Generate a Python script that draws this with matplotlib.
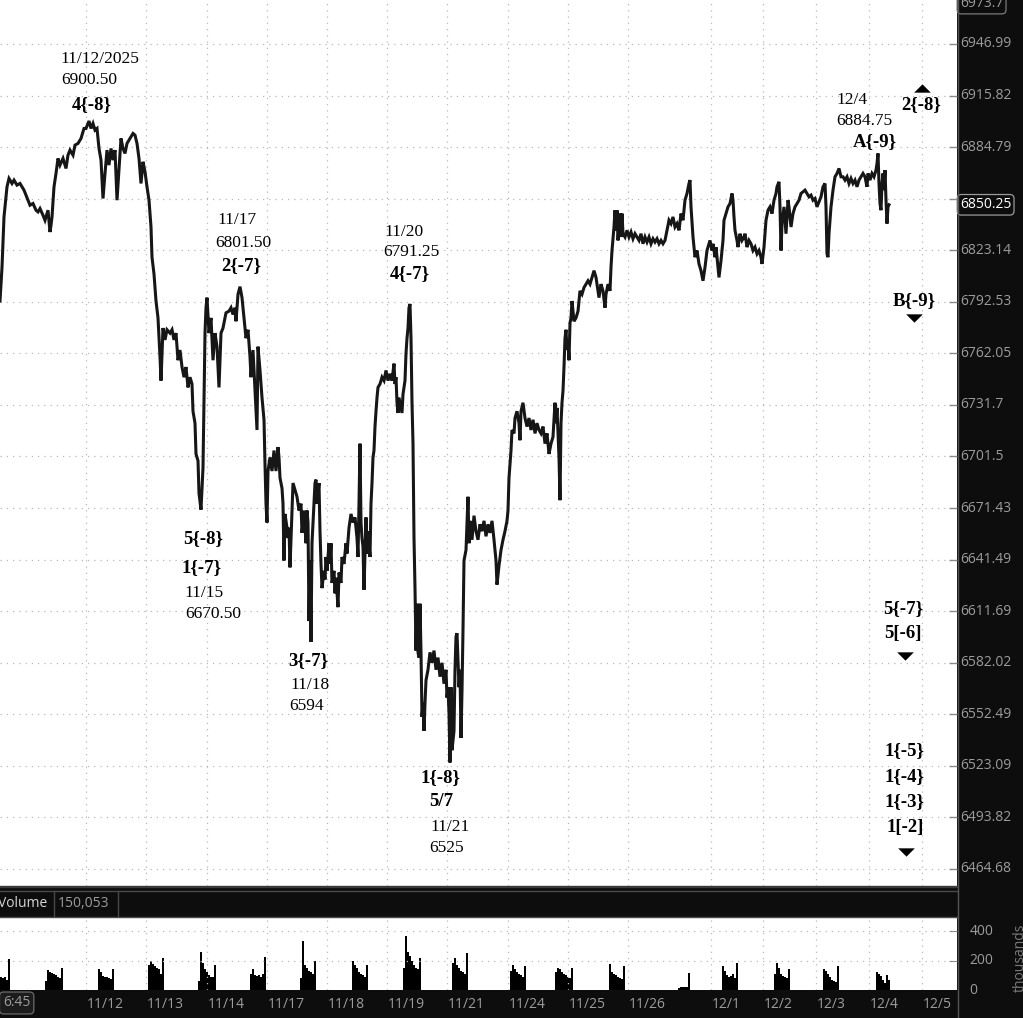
import matplotlib.pyplot as plt
from matplotlib.ticker import NullLocator
from matplotlib.lines import Line2D
from matplotlib.patches import Rectangle

W, H = 1023, 1018

# closes as (bar, price); one bar ~ one chart column
NOV11_14 = [
    (0, 6793), (2, 6813), (4, 6843), (7, 6861), (9, 6866), (12, 6863), (14, 6865), (17, 6862),
    (20, 6863), (24, 6859), (28, 6853), (30, 6850), (33, 6851), (36, 6847), (38, 6846), (40, 6848),
    (43, 6844), (45, 6841), (48, 6847), (50, 6834), (51, 6838), (52, 6843), (54, 6861), (56, 6869),
    (58, 6878), (60, 6874), (63, 6878), (66, 6872), (68, 6880), (70, 6883), (73, 6880), (75, 6886),
    (78, 6887), (81, 6890), (84, 6896), (86, 6896), (89, 6900.5), (91, 6896), (93, 6899), (95, 6895),
    (97, 6896), (99, 6884), (101, 6877), (103, 6854), (105, 6869), (107, 6883), (109, 6874), (111, 6884),
    (113, 6877), (115, 6883), (117, 6853), (119, 6872), (121, 6890), (123, 6884), (125, 6881), (127, 6887),
    (130, 6890), (133, 6893), (135, 6892), (137, 6887), (139, 6878), (141, 6863), (143, 6876), (145, 6870),
    (147, 6861), (149, 6853), (151, 6837), (152, 6819), (154, 6809), (156, 6793), (158, 6783), (160, 6760),
    (161, 6746), (163, 6777), (165, 6770), (167, 6776), (170, 6774), (172, 6776), (174, 6770), (176, 6774),
    (178, 6758), (180, 6764), (182, 6754), (184, 6748), (186, 6754), (188, 6742), (190, 6748), (192, 6744),
    (193, 6728), (195, 6721), (196, 6703), (198, 6699), (199, 6680), (201, 6670.5), (203, 6695), (204, 6734),
    (205, 6774), (206, 6789), (207, 6795), (209, 6774), (211, 6783), (213, 6758), (215, 6774), (217, 6766),
    (219, 6742), (221, 6774), (223, 6777), (226, 6786), (229, 6787), (231, 6789), (233, 6785), (235, 6789),
    (236, 6781), (238, 6797), (240, 6801.5),
]
NOV17_21 = [
    (242, 6795), (244, 6783), (246, 6771), (248, 6776), (250, 6760), (251, 6748), (253, 6764), (255, 6740),
    (257, 6717), (258, 6766), (260, 6752), (262, 6736), (264, 6723), (265, 6697), (266, 6674), (267, 6663),
    (268, 6693), (270, 6701), (272, 6693), (274, 6705), (276, 6693), (278, 6707), (279, 6701), (280, 6689),
    (282, 6683), (283, 6674), (284, 6641), (285, 6668), (287, 6660), (288, 6654), (289, 6660), (290, 6637),
    (291, 6653), (292, 6670), (293, 6686), (295, 6682), (297, 6678), (299, 6670), (301, 6674), (302, 6657),
    (304, 6670), (306, 6651), (307, 6670), (308, 6663), (309, 6606), (310, 6641), (311, 6594), (312, 6651),
    (313, 6663), (315, 6686), (316, 6688), (317, 6674), (319, 6686), (320, 6658), (321, 6639), (322, 6625),
    (324, 6635), (325, 6630), (326, 6643), (327, 6635), (329, 6651), (330, 6639), (331, 6651), (332, 6628),
    (334, 6635), (335, 6622), (336, 6631), (338, 6614), (339, 6634), (341, 6628), (342, 6643), (344, 6639),
    (346, 6651), (347, 6645), (349, 6660), (351, 6668), (353, 6663), (355, 6666), (357, 6654), (358, 6643),
    (359, 6674), (360, 6709), (361, 6663), (362, 6654), (363, 6649), (364, 6624), (366, 6666), (367, 6645),
    (368, 6658), (370, 6643), (371, 6674), (372, 6686), (373, 6701), (374, 6705), (375, 6719), (376, 6728),
    (377, 6736), (378, 6742), (380, 6744), (382, 6748), (384, 6746), (386, 6752), (388, 6746), (390, 6750),
    (392, 6746), (394, 6756), (395, 6744), (396, 6748), (397, 6733), (398, 6727), (399, 6736), (400, 6733),
    (402, 6727), (403, 6738), (405, 6746), (406, 6762), (407, 6771), (408, 6777), (409, 6789), (410, 6791.25),
    (411, 6771), (412, 6733), (413, 6709), (414, 6654), (415, 6625), (416, 6589), (417, 6616), (418, 6588),
    (419, 6585), (420, 6616), (421, 6588), (422, 6551), (423, 6559), (424, 6543), (425, 6559), (426, 6572),
    (428, 6578), (430, 6588), (432, 6582), (434, 6589), (436, 6578), (438, 6585), (440, 6574), (442, 6582),
    (444, 6570), (446, 6578), (447, 6562), (448, 6568), (449, 6553), (450, 6525), (451, 6568), (452, 6532),
    (454, 6543), (455, 6578), (456, 6597), (457, 6599), (459, 6568), (460, 6578), (461, 6539), (462, 6566),
    (463, 6601), (464, 6641), (466, 6647), (468, 6678), (469, 6651),
]
NOV21_26 = [
    (470, 6664), (472, 6653), (474, 6667), (476, 6658), (478, 6653), (480, 6662), (482, 6658), (484, 6664),
    (486, 6655), (488, 6662), (490, 6657), (492, 6664), (494, 6653), (496, 6641), (497, 6627), (499, 6638),
    (501, 6647), (503, 6653), (505, 6658), (507, 6664), (508, 6670), (509, 6689), (511, 6705), (512, 6717),
    (514, 6715), (515, 6724), (517, 6728), (519, 6721), (520, 6711), (521, 6728), (523, 6733), (525, 6724),
    (527, 6719), (529, 6724), (531, 6717), (533, 6723), (535, 6715), (537, 6721), (539, 6717), (541, 6715),
    (543, 6719), (545, 6709), (547, 6715), (549, 6703), (551, 6709), (553, 6713), (555, 6733), (556, 6721),
    (557, 6730), (558, 6715), (559, 6701), (560, 6676), (561, 6721), (562, 6733), (563, 6740), (564, 6754),
    (565, 6771), (566, 6776), (567, 6764), (568, 6770), (569, 6758), (570, 6780), (571, 6783), (572, 6793),
    (574, 6781), (576, 6783), (578, 6787), (580, 6799), (582, 6797), (584, 6801), (586, 6803), (588, 6805),
    (590, 6803), (592, 6807), (594, 6811), (596, 6807), (598, 6799), (599, 6795), (601, 6803), (603, 6799),
    (605, 6789), (606, 6797), (608, 6803), (610, 6799), (611, 6813), (612, 6823), (614, 6837), (615, 6847),
    (616, 6835), (617, 6847), (618, 6829), (620, 6845), (621, 6831), (622, 6845), (623, 6833), (625, 6831),
    (627, 6835), (629, 6831), (631, 6834), (633, 6830), (635, 6833), (637, 6831), (639, 6829), (641, 6833),
    (643, 6827), (645, 6831), (647, 6828), (649, 6831), (651, 6827), (653, 6830), (655, 6828), (657, 6830),
    (659, 6827), (661, 6829), (663, 6827), (665, 6829), (667, 6835), (669, 6841), (671, 6839), (673, 6843),
    (675, 6837), (677, 6839), (679, 6835), (681, 6845), (683, 6841), (685, 6853), (687, 6857), (689, 6863),
    (690, 6865),
]
NOV28_DEC4 = [
    (691, 6849), (693, 6831), (695, 6819), (697, 6823), (699, 6815), (701, 6811), (703, 6805), (705, 6813),
    (707, 6823), (709, 6827), (710, 6829), (712, 6823), (713, 6827), (715, 6819), (716, 6825), (718, 6813),
    (719, 6807), (721, 6817), (723, 6829), (724, 6841), (726, 6845), (728, 6849), (730, 6851), (732, 6857),
    (733, 6853), (734, 6843), (735, 6835), (737, 6829), (738, 6825), (740, 6833), (742, 6829), (744, 6831),
    (745, 6833), (747, 6825), (749, 6829), (751, 6827), (753, 6823), (755, 6825), (757, 6821), (759, 6823),
    (761, 6819), (762, 6815), (764, 6825), (766, 6841), (768, 6847), (770, 6849), (772, 6845), (774, 6853),
    (776, 6857), (777, 6861), (779, 6864), (780, 6849), (781, 6823), (782, 6839), (784, 6849), (786, 6833),
    (788, 6853), (789, 6849), (791, 6837), (793, 6845), (795, 6849), (797, 6851), (799, 6853), (801, 6857),
    (803, 6858), (805, 6859), (807, 6857), (809, 6855), (811, 6856), (813, 6853), (815, 6854), (817, 6849),
    (819, 6852), (821, 6855), (823, 6861), (825, 6863), (826, 6849), (827, 6821), (828, 6819), (829, 6833),
    (831, 6849), (833, 6859), (835, 6867), (837, 6869), (839, 6872), (841, 6867), (843, 6867), (845, 6865),
    (847, 6867), (849, 6863), (851, 6866), (853, 6863), (855, 6865), (857, 6861), (859, 6865), (861, 6867),
    (863, 6869), (865, 6867), (867, 6861), (868, 6869), (870, 6865), (872, 6869), (874, 6867), (876, 6871),
    (877, 6875), (878, 6881), (879, 6863), (880, 6851), (881, 6847), (882, 6863), (883, 6869), (884, 6859),
    (885, 6871), (886, 6853), (887, 6839), (888, 6849), (889, 6850.25),
]

LAST_PRICE = 6850.25
SCALE_TOP = 6973.7
PRICE_LEVELS = [6464.68, 6493.82, 6523.09, 6552.49, 6582.02, 6611.69, 6641.49, 6671.43, 6701.5,
                6731.7, 6762.05, 6792.53, 6823.14, 6853.93, 6884.79, 6915.82, 6946.99]

DATE_TICKS = [86, 146, 207, 267, 327, 387, 447, 508, 568, 628, 711, 763, 816, 869, 922]
DATE_LABELS = ['11/12', '11/13', '11/14', '11/17', '11/18', '11/19', '11/21', '11/24',
               '11/25', '11/26', '12/1', '12/2', '12/3', '12/4', '12/5']

# volume in thousands, one value per 2 bars from each session start
VOL_START = [0, 45, 98, 148, 198, 250, 300, 352, 403, 452, 510, 555, 609, 678, 722, 774, 823, 876]
VOL_PROFILE = [
    [90, 80, 85, 70, 207],
    [60, 135, 125, 115, 110, 100, 90, 80, 150],
    [140, 120, 95, 90, 85, 80, 75, 140],
    [170, 200, 175, 160, 150, 140, 110, 220],
    [60, 260, 180, 140, 120, 100, 90, 85, 170],
    [110, 140, 100, 95, 105, 90, 110, 225],
    [80, 335, 170, 150, 130, 120, 110, 200],
    [200, 170, 150, 120, 110, 100, 90, 170],
    [150, 365, 260, 230, 200, 170, 150, 140, 220],
    [180, 220, 170, 150, 130, 120, 110, 250],
    [130, 170, 140, 120, 110, 100, 90, 160],
    [120, 150, 140, 120, 110, 100, 90, 80, 150],
    [175, 120, 110, 100, 90, 80, 75, 160],
    [15, 20, 20, 22, 20, 115],
    [160, 130, 100, 85, 95, 110, 80, 185],
    [110, 185, 150, 110, 95, 85, 80, 140],
    [140, 130, 110, 90, 70, 60, 55, 165],
    [125, 110, 95, 70, 50, 105, 70],
]
VOL_LEVELS = [200, 400]
VOL_TOTAL = '150,053'

# wave labels: (text, bar, price, bold)
ANNOTATIONS = [
    ('11/12/2025', 100, 6938.1, False), ('6900.50', 89, 6925.5, False), ('4{-8}', 92, 6910.3, True),
    ('11/17', 237, 6840.9, False), ('6801.50', 243, 6827.7, False), ('2{-7}', 241, 6814.1, True),
    ('11/20', 404, 6834.3, False), ('6791.25', 411, 6821.8, False), ('4{-7}', 410, 6809.3, True),
    ('5{-8}', 203, 6653.9, True), ('1{-7}', 202, 6637.0, True),
    ('11/15', 204, 6622.1, False), ('6670.50', 213, 6609.9, False),
    ('3{-7}', 308, 6583.5, True), ('11/18', 310, 6569.2, False), ('6594', 307, 6557.2, False),
    ('1{-8}', 441, 6516.7, True), ('5/7', 441, 6502.6, True),
    ('11/21', 450, 6488.3, False), ('6525', 447, 6476.5, False),
    ('12/4', 852, 6913.4, False), ('6884.75', 864, 6900.7, False), ('A{-9}', 875, 6888.1, True),
    ('2{-8}', 921, 6910.3, True), ('B{-9}', 914, 6793.4, True),
    ('5{-7}', 903, 6613.4, True), ('5[-6]', 903, 6599.0, True),
    ('1{-5}', 905, 6532.1, True), ('1{-4}', 905, 6517.3, True),
    ('1{-3}', 905, 6503.1, True), ('1[-2]', 905, 6488.3, True),
]
ARROWS_UP = [(922, 6920.6)]
ARROWS_DOWN = [(914, 6782.7), (905, 6585.8), (906, 6474.3)]

BG = '#0d0d0d'
AXIS_TXT = '#9c9c9c'
GRID = dict(color='#b8b8b8', linestyle=(0, (1, 4)), linewidth=0.9)
UI_FONT = ['Open Sans', 'DejaVu Sans']
SERIF = ['Liberation Serif', 'DejaVu Serif']

fig = plt.figure(figsize=(W / 100, H / 100), dpi=100, facecolor=BG)

# ---- price panel ----
ax = fig.add_axes([0, 132 / H, 957 / W, 886 / H])
ax.set_facecolor('white')
series = NOV11_14 + NOV17_21 + NOV21_26 + NOV28_DEC4
ax.plot([b for b, _ in series], [p for _, p in series], color='#161616', lw=2.2, solid_joinstyle='miter')
ax.set_yscale('log')
ax.set_xlim(0, 957)
ax.set_ylim(6455.1, SCALE_TOP)
ax.yaxis.set_minor_locator(NullLocator())
ax.set_yticks(PRICE_LEVELS)
ax.set_yticklabels([])
ax.set_xticks(DATE_TICKS)
ax.set_xticklabels([])
ax.yaxis.set_ticks_position('right')
ax.tick_params(axis='y', direction='in', length=6, color='#8a8a8a', width=1)
ax.tick_params(axis='x', length=0)
ax.grid(True, **GRID)
for s in ax.spines.values():
    s.set_visible(False)

ytr = ax.get_yaxis_transform()
for lv in PRICE_LEVELS:
    if abs(lv - LAST_PRICE) < 10:
        continue
    ax.text(1.003, lv, f'{lv:g}', transform=ytr, ha='left', va='center',
            color=AXIS_TXT, fontsize=10, family=UI_FONT, clip_on=False)
ax.text(1.003, LAST_PRICE, f'{LAST_PRICE:.2f}', transform=ytr, ha='left', va='center', color='white',
        fontsize=10, family=UI_FONT, clip_on=False,
        bbox=dict(boxstyle='round,pad=0.2,rounding_size=0.3', fc=BG, ec='#9a9a9a', lw=0.9))
ax.text(1.003, 6971.5, f'{SCALE_TOP:g}', transform=ytr, ha='left', va='center', color=AXIS_TXT,
        fontsize=10, family=UI_FONT, clip_on=False,
        bbox=dict(boxstyle='round,pad=0.2,rounding_size=0.3', fc=BG, ec='#7a7a7a', lw=0.9))

for text, bx, py, bold in ANNOTATIONS:
    ax.text(bx, py, text, ha='center', va='center', family=SERIF,
            fontsize=13.5 if bold else 12.5, fontweight='bold' if bold else 'normal', color='black')

tri_up = [(-1, -0.5), (1, -0.5), (0, 0.5), (-1, -0.5)]
tri_dn = [(-1, 0.5), (1, 0.5), (0, -0.5), (-1, 0.5)]
for bx, py in ARROWS_UP:
    ax.plot(bx, py, marker=tri_up, ms=12, color='black', mew=0)
for bx, py in ARROWS_DOWN:
    ax.plot(bx, py, marker=tri_dn, ms=12, color='black', mew=0)

# ---- separators and volume header ----
fig.add_artist(Rectangle((0, 1 - 887 / H), 957 / W, 1 / H, transform=fig.transFigure, color='#3a3a3a'))
fig.add_artist(Line2D([0, 957 / W], [1 - 890.5 / H] * 2, color='#4a4a4a', lw=1))
fig.add_artist(Line2D([0, 957 / W], [1 - 916.5 / H] * 2, color='#4a4a4a', lw=1))
for xd in (53.5, 117.5):
    fig.add_artist(Line2D([xd / W] * 2, [1 - 891 / H, 1 - 916 / H], color='#4a4a4a', lw=1))
fig.text(-1.5 / W, 1 - 903.5 / H, 'Volume', ha='left', va='center', color='#d6d6d6', fontsize=10, family=UI_FONT)
fig.text(58 / W, 1 - 903.5 / H, VOL_TOTAL, ha='left', va='center', color=AXIS_TXT, fontsize=10, family=UI_FONT)
fig.add_artist(Line2D([957.5 / W] * 2, [0, 1], color='#555555', lw=1))

# ---- volume panel ----
axv = fig.add_axes([0, 28 / H, 957 / W, 73 / H])
axv.set_facecolor('white')
for start, prof in zip(VOL_START, VOL_PROFILE):
    axv.bar([start + 2 * i for i in range(len(prof))], prof, width=2.0, align='edge', color='black', lw=0)
axv.set_xlim(0, 957)
axv.set_ylim(0, 495)
axv.set_yticks(VOL_LEVELS)
axv.set_yticklabels([])
axv.set_xticks(DATE_TICKS)
axv.set_xticklabels([])
axv.yaxis.set_ticks_position('right')
axv.tick_params(axis='y', direction='in', length=6, color='#8a8a8a')
axv.tick_params(axis='x', length=0)
axv.grid(True, **GRID)
for s in axv.spines.values():
    s.set_visible(False)
vtr = axv.get_yaxis_transform()
for lv in [0] + VOL_LEVELS:
    axv.text(1.013, lv, str(lv), transform=vtr, ha='left', va='center', color=AXIS_TXT,
             fontsize=10, family=UI_FONT, clip_on=False)
fig.text(1013 / W, 1 - 958 / H, 'thousands', rotation=90, ha='left', va='center', color='#7a7a7a',
         fontsize=10, family=UI_FONT)

# ---- time axis band ----
xtr = axv.get_xaxis_transform()
for tx, lab in zip(DATE_TICKS, DATE_LABELS):
    axv.text(tx + 1, -0.2, lab, transform=xtr, ha='left', va='center', color=AXIS_TXT,
             fontsize=10, family=UI_FONT, clip_on=False)
fig.text(3 / W, 1 - 1003 / H, '6:45', ha='left', va='center', color=AXIS_TXT, fontsize=10, family=UI_FONT,
         bbox=dict(boxstyle='round,pad=0.25,rounding_size=0.3', fc='#1c1c1c', ec='#6a6a6a', lw=0.9))

fig.savefig('out.png', dpi=100, facecolor=BG)
